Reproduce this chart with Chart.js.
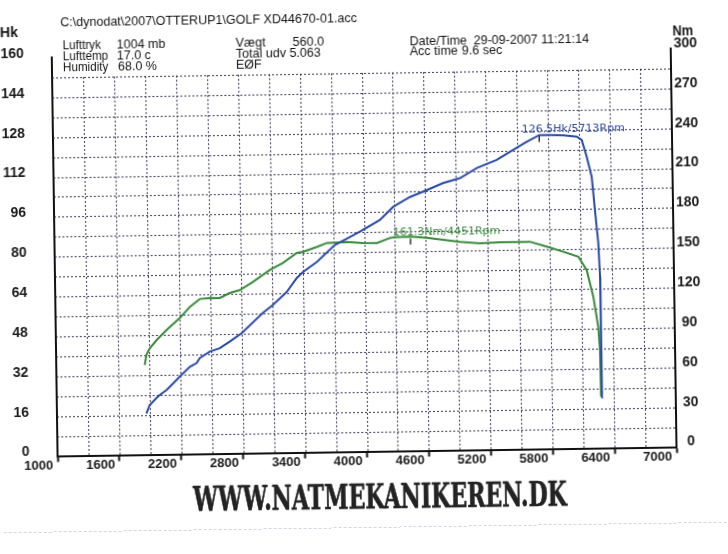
<!DOCTYPE html>
<html><head><meta charset="utf-8">
<script src="https://cdn.jsdelivr.net/npm/chart.js@4.4.1/dist/chart.umd.min.js"></script>
<style>
html,body{margin:0;padding:0;background:#fff;overflow:hidden;}
#wrap{position:absolute;left:0;top:0;width:728px;height:554px;transform:rotate(-0.83deg);transform-origin:364px 277px;background:#fff;}
#c{position:absolute;left:0;top:0;width:728px;height:554px;}
.t{position:absolute;white-space:pre;font-family:"Liberation Sans",Arial,sans-serif;font-size:13.5px;color:#141414;line-height:1;transform-origin:0 50%;}
.b{font-weight:bold;font-size:14px;}
.foot{font-family:"DejaVu Serif","Liberation Serif",serif;font-weight:bold;font-size:33px;color:#232323;-webkit-text-stroke:0.7px #232323;}
.scan{position:absolute;left:0;top:527px;width:728px;height:0;border-top:1px dashed rgba(170,160,190,0.45);}
</style></head><body>
<div id="wrap">
<canvas id="c" width="728" height="554"></canvas>
<div class="t b" data-x="3.6" data-y="26.7" data-w="18">Hk</div>
<div class="t b" data-x="675.6" data-y="34.5" data-w="21">Nm</div>
<div class="t h" id="path" data-x="63.7" data-y="17.6" data-w="297">C:\dynodat\2007\OTTERUP1\GOLF XD44670-01.acc</div>
<div class="t h n" data-x="66.4" data-y="40.6">Lufttryk</div>
<div class="t h" data-x="120.0" data-y="40.6">1004 mb</div>
<div class="t h n" data-x="66.2" data-y="51.6">Lufttemp</div>
<div class="t h" data-x="120.0" data-y="51.6">17.0 c</div>
<div class="t h n" data-x="66.0" data-y="62.6">Humidity</div>
<div class="t h" data-x="121.0" data-y="62.6">68.0 %</div>
<div class="t h" data-x="239.4" data-y="41.1">Vægt</div>
<div class="t h" data-x="296.4" data-y="41.1">560.0</div>
<div class="t h" data-x="239.2" data-y="52.1">Total udv 5.063</div>
<div class="t h" data-x="239.1" data-y="63.1">EØF</div>
<div class="t h" data-x="413.4" data-y="41.7">Date/Time</div>
<div class="t h" data-x="477.4" data-y="41.7">29-09-2007 11:21:14</div>
<div class="t h" data-x="413.3" data-y="51.7">Acc time</div>
<div class="t h" data-x="465.3" data-y="51.7">9.6 sec</div>
<div class="t foot" data-cx="376.8" data-y="497.2" data-w="374">WWW.NATMEKANIKEREN.DK</div>
<div class="scan"></div>
</div>
<script>
// ---- data ----
const rpmTicks = [1000,1600,2200,2800,3400,4000,4600,5200,5800,6400,7000];
const hkTicks  = [0,16,32,48,64,80,96,112,128,144,160];
const nmTicks  = [0,30,60,90,120,150,180,210,240,270,300];

const hkRpm    = [1867,1900,1966,1999,2064,2097,2195,2294,2362,2392,2490,2587,2685,2803,3009,3107,3245,3344,3403,3540,3717,3864,3961,4157,4289,4451,4617,4773,4939,5105,5297,5457,5591,5713,5817,5950,6076,6125,6170,6216,6243,6271,6283,6285,6286];
const hkValues = [16.5,19.9,22.7,23.9,25.8,27.1,31.1,35.0,36.5,38.5,41.0,42.3,44.9,48.3,56.2,59.3,64.5,70.1,72.4,76.4,83.1,86.2,88.3,92.9,98.1,101.9,104.6,107.3,109.2,113.2,116.3,120.2,123.4,126.0,126.0,125.8,125.2,123.8,117.1,109.0,95.6,82.2,68.8,42.1,20.0];

const nmRpm    = [1858,1875,1908,1977,2075,2204,2302,2400,2497,2594,2692,2789,2917,3083,3210,3347,3406,3542,3640,3834,3989,4125,4251,4280,4451,4610,4930,5123,5318,5609,5770,5930,6075,6154,6215,6259,6272,6276];
const nmValues = [67.5,75.0,80.0,86.2,93.7,102.5,110.6,116.6,117.2,117.1,120.8,122.9,128.8,137.7,142.8,150.2,150.9,154.5,157.4,157.9,157.0,156.8,160.4,161.0,161.3,160.1,156.7,155.5,156.0,156.1,152.2,148.2,144.3,134.2,114.1,91.0,73.4,38.8];

const peakLabels = ['126.5Hk/5713Rpm','161.3Nm/4451Rpm'];
const peakRpm    = [5713,4451];
const peakValues = [126.5,161.3];
const peakAxes   = ['yHk','yNm'];
const peakColors = ['#2b4a9e','#3a8a3c'];

const HK_MAX = 160, NM_MAX = 300, HK_GRID = 8, RPM_GRID = 300;

// ---- text layout ----
const pathEl = document.getElementById('path');
const headK = 297 / pathEl.offsetWidth;
document.querySelectorAll('.t').forEach(el=>{
  const y = +el.dataset.y;
  let k = 1;
  if (el.classList.contains('h')) k = headK * (el.classList.contains('n') ? 0.93 : 1);
  else if (el.dataset.w) k = (+el.dataset.w) / el.offsetWidth;
  const w = el.offsetWidth * k;
  const x = el.dataset.cx !== undefined ? (+el.dataset.cx - w/2) : +el.dataset.x;
  el.style.left = x + 'px';
  el.style.top = y + 'px';
  el.style.transform = 'translateY(-50%) scaleX(' + k + ')';
});

// ---- plugins ----
const dynoGrid = {
  id:'dynoGrid',
  beforeDatasetsDraw(chart){
    const {ctx, chartArea:a, scales:{x, yHk}} = chart;
    ctx.save();
    ctx.strokeStyle = 'rgba(40,40,70,0.85)';
    ctx.lineWidth = 1.1;
    ctx.setLineDash([2,2]);
    const yTop = yHk.getPixelForValue(HK_MAX - HK_GRID);
    const yBot = yHk.getPixelForValue(0);
    for (let v = x.min + RPM_GRID; v < x.max; v += RPM_GRID){
      const px = Math.round(x.getPixelForValue(v)) + 0.5;
      ctx.beginPath(); ctx.moveTo(px, yTop); ctx.lineTo(px, yBot); ctx.stroke();
    }
    for (let v = HK_GRID; v < HK_MAX; v += HK_GRID){
      const py = Math.round(yHk.getPixelForValue(v)) + 0.5;
      ctx.beginPath(); ctx.moveTo(a.left, py); ctx.lineTo(a.right, py); ctx.stroke();
    }
    ctx.restore();
  }
};
const peakNotes = {
  id:'peakNotes',
  afterDatasetsDraw(chart){
    const {ctx, scales} = chart;
    ctx.save();
    ctx.font = '11px "DejaVu Sans", Verdana, sans-serif';
    ctx.textBaseline = 'middle';
    ctx.textAlign = 'left';
    peakLabels.forEach((lab,i)=>{
      const px = scales.x.getPixelForValue(peakRpm[i]);
      const py = scales[peakAxes[i]].getPixelForValue(peakValues[i]);
      ctx.fillStyle = peakColors[i];
      ctx.fillText(lab, px - 17.5, py - 4.5);
      ctx.strokeStyle = '#222';
      ctx.lineWidth = 1.4;
      ctx.beginPath(); ctx.moveTo(px, py + 2); ctx.lineTo(px, py + 8); ctx.stroke();
    });
    ctx.restore();
  }
};

const tickFont = {family:'"Liberation Sans", Arial, sans-serif', size:14, weight:'bold'};

new Chart(document.getElementById('c'), {
  type:'scatter',
  data:{
    datasets:[
      {label:'Hk', data: hkRpm.map((r,i)=>({x:r, y:hkValues[i]})), yAxisID:'yHk', showLine:true,
       borderColor:'#2a4aa6', borderWidth:2, pointRadius:0, tension:0},
      {label:'Nm', data: nmRpm.map((r,i)=>({x:r, y:nmValues[i]})), yAxisID:'yNm', showLine:true,
       borderColor:'#388a3a', borderWidth:2, pointRadius:0, tension:0}
    ]
  },
  options:{
    responsive:false, animation:false, devicePixelRatio:1,
    layout:{padding:{top:53, left:0, right:0, bottom:0}},
    plugins:{legend:{display:false}, tooltip:{enabled:false}},
    scales:{
      x:{type:'linear', position:'bottom', min:rpmTicks[0], max:rpmTicks[rpmTicks.length-1],
        ticks:{stepSize:RPM_GRID, autoSkip:false, maxRotation:0, minRotation:0, labelOffset:-19, padding:-4,
          color:'#1c1c1c', font:{family:'"Liberation Sans", Arial, sans-serif', size:13, weight:'bold'},
          callback:v=> rpmTicks.includes(v) ? String(v) : ''},
        grid:{display:true, drawOnChartArea:false, drawTicks:true, tickLength:6, tickWidth:2,
          tickColor: c => (c.tick && rpmTicks.includes(c.tick.value)) ? '#111' : 'rgba(0,0,0,0)'},
        border:{display:true, color:'#111', width:2},
        afterFit: s => { s.height = 102.5; }
      },
      yHk:{type:'linear', position:'left', min:0, max:HK_MAX,
        ticks:{stepSize:HK_GRID, autoSkip:false, padding:28, labelOffset:-4, color:'#1c1c1c', font:tickFont,
          callback:v=> hkTicks.includes(v) ? String(v) : ''},
        grid:{display:true, drawOnChartArea:false, drawTicks:false},
        border:{display:true, color:'#111', width:2},
        afterFit: s => { s.width = 55; }
      },
      yNm:{type:'linear', position:'right', min:0, max:NM_MAX,
        ticks:{stepSize:30, autoSkip:false, padding:3, crossAlign:'center', labelOffset:-5, color:'#1c1c1c', font:tickFont,
          callback:v=> nmTicks.includes(v) ? String(v) : ''},
        grid:{display:true, drawOnChartArea:false, drawTicks:false},
        border:{display:true, color:'#111', width:2},
        afterFit: s => { s.width = 54; }
      }
    }
  },
  plugins:[dynoGrid, peakNotes]
});
</script>
</body></html>
